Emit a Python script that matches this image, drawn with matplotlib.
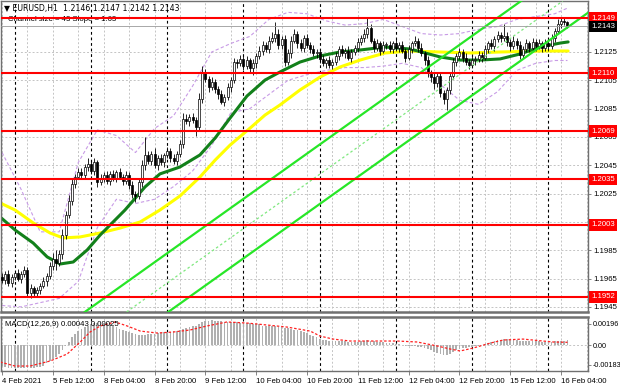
import matplotlib
matplotlib.use("Agg")
import matplotlib.pyplot as plt
from matplotlib.transforms import blended_transform_factory

plt.rcParams['font.family'] = ['Liberation Sans', 'DejaVu Sans']

# EURUSD H1 candles: each bar opens at the previous close
first_open = 1.1966
closes = [
    1.1964, 1.1968, 1.1962, 1.1966, 1.1969, 1.1965, 1.1968, 1.1971,
    1.1955, 1.1958, 1.1955, 1.1957, 1.1960, 1.1963, 1.1967,
    1.1974, 1.1979, 1.1976, 1.1982, 1.1996, 1.2010, 1.2020, 1.2032, 1.2037, 1.2040,
    1.2038, 1.2044, 1.2046, 1.2041, 1.2047, 1.2033, 1.2036,
    1.2038, 1.2034, 1.2039, 1.2036, 1.2040, 1.2037, 1.2034, 1.2038,
    1.2031, 1.2025, 1.2023, 1.2033, 1.2045, 1.2052,
    1.2048, 1.2053, 1.2045, 1.2050, 1.2047, 1.2052, 1.2055, 1.2050, 1.2048, 1.2053,
    1.2060, 1.2078, 1.2076, 1.2079, 1.2077, 1.2072, 1.2092, 1.2110,
    1.2106, 1.2100, 1.2104, 1.2099, 1.2095, 1.2090, 1.2093, 1.2100, 1.2105,
    1.2118, 1.2117, 1.2120, 1.2115, 1.2119, 1.2114, 1.2117,
    1.2122, 1.2126, 1.2130, 1.2127, 1.2133, 1.2135, 1.2138, 1.2130, 1.2134, 1.2118, 1.2124,
    1.2133, 1.2138, 1.2131, 1.2128, 1.2135, 1.2130, 1.2127, 1.2124, 1.2125,
    1.2120, 1.2117, 1.2119, 1.2116, 1.2118, 1.2122, 1.2127, 1.2124, 1.2126, 1.2121, 1.2125,
    1.2128, 1.2132, 1.2135, 1.2138, 1.2142, 1.2133, 1.2128, 1.2131, 1.2126, 1.2130,
    1.2130, 1.2127, 1.2131, 1.2128, 1.2130, 1.2126, 1.2121, 1.2127, 1.2131, 1.2133, 1.2128,
    1.2124, 1.2119, 1.2110, 1.2107, 1.2103, 1.2108, 1.2096, 1.2092, 1.2098, 1.2108, 1.2118,
    1.2122, 1.2125, 1.2121, 1.2118, 1.2116, 1.2119, 1.2120, 1.2123, 1.2121, 1.2127, 1.2131, 1.2129,
    1.2134, 1.2137, 1.2135, 1.2136, 1.2132, 1.2129, 1.2133, 1.2130, 1.2123, 1.2127,
    1.2131, 1.2128, 1.2132, 1.2129, 1.2131, 1.2128, 1.2131, 1.2129,
    1.2135, 1.2140, 1.2145, 1.2147, 1.2146, 1.2143,
]
# wick lengths in pips above / below the body
wick_up = [
    3, 2, 3, 2, 2, 3, 2, 3, 2, 3, 2, 2, 2, 3, 2, 3, 4, 6, 3, 4,
    3, 4, 3, 2, 3, 3, 2, 4, 3, 3, 2, 3, 2, 3, 2, 3, 2, 3, 2, 3,
    2, 3, 2, 3, 4, 13, 3, 2, 4, 2, 3, 2, 3, 2, 3, 2, 3, 4, 3, 2,
    3, 2, 4, 5, 3, 2, 3, 2, 2, 3, 2, 3, 2, 3, 2, 3, 2, 3, 2, 3,
    2, 3, 3, 2, 3, 4, 8, 3, 2, 3, 3, 3, 3, 2, 3, 2, 3, 2, 3, 2,
    2, 3, 2, 3, 2, 3, 2, 3, 2, 3, 2, 2, 3, 2, 3, 8, 3, 2, 3, 2,
    3, 2, 3, 2, 3, 2, 3, 2, 3, 2, 3, 2, 3, 2, 3, 2, 3, 2, 3, 2,
    2, 3, 3, 2, 3, 2, 3, 2, 3, 2, 3, 2, 3, 2, 3, 2, 3, 2, 9, 3,
    2, 3, 2, 3, 2, 3, 2, 3, 2, 3, 2, 3, 2, 3, 2, 3, 3, 2, 1,
]
wick_down = [
    2, 3, 2, 3, 2, 2, 3, 2, 3, 4, 3, 3, 3, 2, 3, 2, 3, 5, 2, 3,
    3, 2, 3, 3, 2, 3, 2, 3, 2, 3, 3, 2, 3, 2, 3, 2, 3, 2, 3, 2,
    3, 3, 4, 2, 3, 3, 2, 3, 2, 3, 2, 3, 2, 3, 2, 3, 2, 3, 2, 3,
    2, 6, 3, 3, 2, 3, 2, 3, 3, 2, 3, 2, 3, 2, 3, 2, 3, 2, 3, 5,
    3, 2, 3, 2, 3, 2, 3, 3, 3, 3, 2, 3, 2, 3, 2, 3, 2, 3, 2, 3,
    3, 2, 3, 2, 3, 2, 3, 2, 3, 2, 3, 2, 3, 2, 3, 3, 2, 3, 2, 3,
    2, 3, 2, 3, 2, 3, 2, 3, 2, 3, 2, 3, 2, 3, 3, 3, 4, 3, 3, 4,
    8, 3, 2, 3, 2, 3, 2, 3, 2, 3, 2, 3, 2, 3, 2, 3, 2, 3, 2, 3,
    3, 2, 3, 3, 2, 2, 3, 2, 3, 2, 3, 2, 3, 2, 3, 2, 3, 2, 1,
]

# moving averages (green fast, yellow slow), read at bar positions
ma_green_bar = [-0.6, 4.1, 9.8, 14.2, 18.3, 22.4, 26.8, 30.9, 38.7, 45.0, 49.7, 56.0,
                62.3, 67.1, 71.8, 77.1, 82.8, 87.5, 93.8, 100.1, 106.4, 112.7, 120.6,
                128.5, 133.2, 137.9, 144.2, 150.5, 156.8, 163.1, 169.4, 175.7, 178.2]
ma_green = [1.20085, 1.19993, 1.19901, 1.19803, 1.19753, 1.19767, 1.19852, 1.19958,
            1.20134, 1.20297, 1.20389, 1.20438, 1.20523, 1.20643, 1.20784, 1.20939,
            1.21052, 1.21109, 1.21179, 1.21222, 1.21250, 1.21264, 1.21285, 1.21271,
            1.21243, 1.21215, 1.21193, 1.21193, 1.21201, 1.21236, 1.21285, 1.21313, 1.21321]
ma_yellow_bar = [-0.6, 4.1, 9.8, 15.1, 19.2, 24.6, 30.9, 37.2, 43.5, 49.7, 56.0, 62.3,
                 67.1, 71.8, 78.1, 82.8, 87.5, 93.8, 100.1, 106.4, 112.7, 120.6, 128.5,
                 137.9, 147.4, 156.8, 169.4, 178.2]
ma_yellow = [1.20184, 1.20134, 1.20043, 1.19972, 1.19937, 1.19944, 1.19972, 1.20007,
             1.20050, 1.20134, 1.20233, 1.20367, 1.20487, 1.20593, 1.20713, 1.20805,
             1.20876, 1.20982, 1.21073, 1.21144, 1.21193, 1.21243, 1.21257, 1.21250,
             1.21243, 1.21250, 1.21257, 1.21257]

# envelope bands (purple dashed)
band_bar = [0, 6, 12, 18, 24, 30, 36, 42, 48, 54, 60, 66, 72, 78, 84, 90, 96, 102,
            108, 114, 120, 126, 132, 138, 144, 150, 156, 162, 168, 174, 178]
band_upper = [1.2054, 1.2028, 1.1998, 1.1998, 1.2047, 1.2070, 1.2066, 1.2054, 1.2071,
              1.2080, 1.2101, 1.2125, 1.2131, 1.2136, 1.2148, 1.2153, 1.2152, 1.2147,
              1.2144, 1.2145, 1.2148, 1.2143, 1.2138, 1.2137, 1.2138, 1.2141, 1.2143,
              1.2148, 1.2150, 1.2152, 1.2156]
band_lower = [1.1946, 1.1945, 1.1948, 1.1951, 1.1963, 1.2001, 1.2021, 1.2018, 1.2021,
              1.2030, 1.2041, 1.2059, 1.2082, 1.2085, 1.2095, 1.2105, 1.2109, 1.2112,
              1.2114, 1.2114, 1.2115, 1.2117, 1.2114, 1.2102, 1.2091, 1.2088, 1.2097,
              1.2112, 1.2117, 1.2119, 1.2119]

# rising channel: two anchor points of the upper line, width in price
channel_bar = [25.8, 159.0]
channel_upper = [1.1941, 1.2154]
channel_width = 0.0042

levels = [1.2149, 1.2110, 1.2069, 1.2035, 1.2003, 1.1952]
last_price = 1.2143

# MACD(12,26,9): main as histogram, signal as dotted line
macd_hist = [
    -0.0019, -0.0020, -0.0021, -0.0021, -0.0021, -0.0021, -0.0021, -0.0021, -0.0021, -0.0021,
    -0.0021, -0.0020, -0.0020, -0.0019,
    -0.0017, -0.0015, -0.0013, -0.0011, -0.0008, -0.0005, -0.0001,
    0.0003, 0.0007, 0.0010, 0.0013, 0.0015, 0.0017, 0.0018, 0.0019, 0.0020,
    0.0020, 0.0021, 0.0020, 0.0020,
    0.0019, 0.0018, 0.0017, 0.0015, 0.0014, 0.0013, 0.0012, 0.0011, 0.0010, 0.0009, 0.0009, 0.0009,
    0.0010, 0.0010, 0.0010, 0.0011, 0.0011, 0.0012, 0.0012, 0.0012, 0.0013, 0.0013, 0.0014,
    0.0015, 0.0016, 0.0017, 0.0018, 0.0018, 0.0019,
    0.0021, 0.0022, 0.0022, 0.0023, 0.0022, 0.0022, 0.0022, 0.0021, 0.0021, 0.0021, 0.0021,
    0.0021, 0.0020,
    0.0020, 0.0020, 0.0020, 0.0019, 0.0019, 0.0019, 0.0018, 0.0018, 0.0018, 0.0018, 0.0018,
    0.0017, 0.0017, 0.0016, 0.0016,
    0.0015, 0.0014, 0.0014, 0.0013, 0.0012, 0.0011, 0.0009, 0.0008, 0.0007, 0.0006, 0.0005,
    0.0005, 0.0004, 0.0004, 0.0004,
    0.0004, 0.0004, 0.0004, 0.0003, 0.0003, 0.0003, 0.0003, 0.0004, 0.0004, 0.0005, 0.0004,
    0.0004, 0.0003, 0.0003, 0.0003,
    0.0002, 0.0002, 0.0002, 0.0001, 0.0001, 0.0000, -0.0001, -0.0001, -0.0001, -0.0001,
    -0.0002, -0.0002, -0.0003, -0.0004, -0.0005,
    -0.0006, -0.0007, -0.0008, -0.0009, -0.0009, -0.0008, -0.0006, -0.0005, -0.0004, -0.0003,
    -0.0003, -0.0002, -0.0002, -0.0001, -0.0001,
    0.0000, 0.0001, 0.0002, 0.0003, 0.0004, 0.0005, 0.0005, 0.0006, 0.0006, 0.0005,
    0.0005, 0.0005, 0.0004, 0.0004, 0.0004,
    0.0004, 0.0004, 0.0004, 0.0004, 0.0003, 0.0003, 0.0003, 0.0003, 0.0004, 0.0004,
    0.0004, 0.0004, 0.00043,
]
signal_bar = [-0.6, 4.1, 8.8, 15.1, 20.5, 24.6, 27.7, 30.9, 35.6, 39.4, 43.5, 48.8,
              53.8, 59.2, 64.5, 70.8, 77.1, 83.4, 89.7, 97.0, 100.1, 104.2, 109.6, 118.1,
              124.4, 130.7, 137.0, 141.1, 144.2, 148.3, 153.7, 157.7, 164.0, 170.3, 173.5, 178.0]
signal = [-0.00157, -0.00194, -0.00194, -0.00148, -0.00083, 0.00028, 0.00120, 0.00176,
          0.00213, 0.00176, 0.00129, 0.00111, 0.00120, 0.00139, 0.00176, 0.00213, 0.00203,
          0.00185, 0.00166, 0.00129, 0.00083, 0.00055, 0.00037, 0.00037, 0.00037, 0.00028,
          -0.00009, -0.00037, -0.00055, -0.00028, 0.00018, 0.00046, 0.00055, 0.00037,
          0.00028, 0.00025]

time_labels = ["4 Feb 2021", "5 Feb 12:00", "8 Feb 04:00", "8 Feb 20:00", "9 Feb 12:00",
               "10 Feb 04:00", "10 Feb 20:00", "11 Feb 12:00", "12 Feb 04:00",
               "12 Feb 20:00", "15 Feb 12:00", "16 Feb 04:00"]

FS = 5.6
GRID = '#c4c4c4'
FRAME = '#707070'

fig = plt.figure(figsize=(6.2, 3.88), dpi=100)
ax = fig.add_axes([0.001, 0.1959, 0.9476, 0.8015])
mx = fig.add_axes([0.001, 0.0438, 0.9476, 0.1392], sharex=ax)

n = len(closes)
bars = list(range(n))
opens = [first_open] + closes[:-1]

# grid and day separators
for b in range(0, 185, 8):
    for a in (ax, mx):
        a.axvline(b, color=GRID, lw=0.7, ls=(0, (2, 2)), zorder=0.5)
for b in range(4, 185, 24):
    for a in (ax, mx):
        a.axvline(b, color='black', lw=0.8, ls=(0, (2.5, 2.5)), zorder=0.6)

yt = [1.1945 + 0.0020 * k for k in range(10)]
for y in yt:
    ax.axhline(y, color=GRID, lw=0.7, ls=(0, (2, 2)), zorder=0.5)

# bands and moving averages
ax.plot(band_bar, band_upper, color='#c89be6', lw=0.8, ls=(0, (3, 2)), zorder=1)
ax.plot(band_bar, band_lower, color='#c89be6', lw=0.8, ls=(0, (3, 2)), zorder=1)
ax.plot(ma_yellow_bar, ma_yellow, color='#ffff00', lw=2.2, zorder=2, solid_capstyle='round')
ax.plot(ma_green_bar, ma_green, color='#12801a', lw=2.2, zorder=2.1, solid_capstyle='round')

# candles
for i in bars:
    o, c = opens[i], closes[i]
    top, bot = max(o, c), min(o, c)
    hi = top + wick_up[i] * 0.0001
    lo = bot - wick_down[i] * 0.0001
    ax.vlines(i, lo, hi, color='black', lw=0.6, zorder=3)
    h = max(top - bot, 0.00003)
    ax.bar(i, h, bottom=bot, width=0.62,
           color='white' if c >= o else 'black', edgecolor='black', lw=0.5, zorder=3.1)

# channel
up0 = (channel_bar[0], channel_upper[0])
up1 = (channel_bar[1], channel_upper[1])
ax.axline(up0, up1, color='#27e627', lw=1.6, zorder=3.5)
ax.axline((up0[0], up0[1] - channel_width), (up1[0], up1[1] - channel_width),
          color='#27e627', lw=1.6, zorder=3.5)
ax.axline((up0[0], up0[1] - channel_width / 2), (up1[0], up1[1] - channel_width / 2),
          color='#7ee87e', lw=0.9, ls=(0, (2, 2)), zorder=3.5)

# horizontal levels
trans = blended_transform_factory(ax.transAxes, ax.transData)
ax.axhline(last_price, color='#9a9a9a', lw=0.6, zorder=3.6)
for lv in levels:
    ax.axhline(lv, color='#ff0000', lw=1.5, zorder=4)

ax.set_xlim(-0.45, 184.5)
ax.set_ylim(1.19414, 1.21610)
ax.yaxis.tick_right()
ax.set_yticks(yt)
# 1.2005 sits under the 1.2003 level box
ax.set_yticklabels(['' if abs(v - 1.2005) < 1e-6 else f'{v:.4f}' for v in yt])
ax.tick_params(axis='y', length=2.5, width=0.6, color=FRAME, pad=1.5, labelsize=FS)
ax.tick_params(axis='x', bottom=False, labelbottom=False)

for lv in levels:
    ax.text(1.005, lv, f'{lv:.4f}', transform=trans, ha='left', va='center', color='white',
            fontsize=FS, zorder=6, clip_on=False,
            bbox=dict(boxstyle='square,pad=0.3', fc='#ff0000', ec='none'))
ax.text(1.005, last_price, f'{last_price:.4f}', transform=trans, ha='left', va='center',
        color='white', fontsize=FS, zorder=6, clip_on=False,
        bbox=dict(boxstyle='square,pad=0.3', fc='black', ec='none'))

ax.text(0.006, 0.975, '\u25bc EURUSD,H1  1.2146 1.2147 1.2142 1.2143', transform=ax.transAxes,
        fontsize=FS, va='center', ha='left', zorder=1, family=['DejaVu Sans'])
ax.text(0.012, 0.94, 'Channel size = 43 Slope = 1.63', transform=ax.transAxes,
        fontsize=FS, va='center', ha='left', zorder=1)

# MACD panel
mx.bar(bars, macd_hist, width=0.55, color='#b0b0b0', zorder=2)
mx.plot(signal_bar, signal, color='#ff2020', lw=0.9, ls=(0, (2, 1.5)), zorder=3)
mx.axhline(0, color=GRID, lw=0.7, ls=(0, (2, 2)), zorder=0.5)
mx.set_ylim(-0.0024, 0.00259)
mx.yaxis.tick_right()
mx.set_yticks([-0.00183, 0.0, 0.00196])
mx.set_yticklabels(['-0.00183', '0.00', '0.00196'])
mx.tick_params(axis='y', length=2, width=0.6, color=FRAME, pad=1, labelsize=5.2)
mx.set_xticks(list(range(0, 177, 16)))
mx.set_xticklabels(time_labels, ha='left')
mx.tick_params(axis='x', length=3, width=0.6, color=FRAME, pad=2, labelsize=FS)
mx.text(0.008, 0.86, 'MACD(12,26,9) 0.00043 0.00025', transform=mx.transAxes,
        fontsize=FS, va='center', ha='left', zorder=5)

for a in (ax, mx):
    a.set_facecolor('white')
    for s in a.spines.values():
        s.set_color(FRAME)
        s.set_linewidth(1.0)
ax.spines['bottom'].set_linewidth(1.8)
mx.spines['top'].set_linewidth(1.8)

fig.savefig('out.png', dpi=100, facecolor='white')
